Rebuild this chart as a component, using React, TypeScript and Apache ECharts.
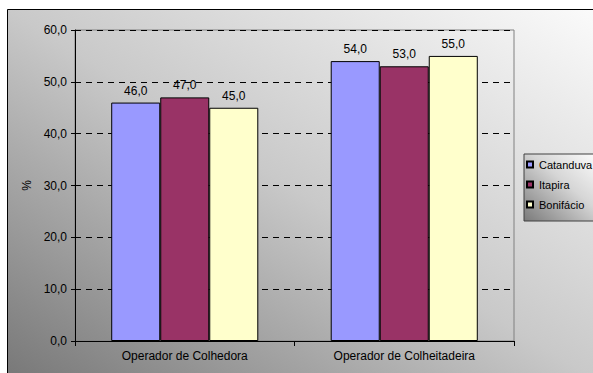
import React, { useEffect, useRef } from "react";
import * as echarts from "echarts";

const categories = ["Operador de Colhedora", "Operador de Colheitadeira"];
const seriesNames = ["Catanduva", "Itapira", "Bonifácio"];
const catanduva = [46.0, 54.0];
const itapira = [47.0, 53.0];
const bonifacio = [45.0, 55.0];
const yTicks = { min: 0, max: 60, interval: 10 };

const FONT = "Liberation Sans, Arial, sans-serif";
const fmt = (v: number) => v.toFixed(1).replace(".", ",");

export default function App() {
  const ref = useRef<HTMLDivElement>(null);

  useEffect(() => {
    document.body.style.margin = "0";
    if (!ref.current) return;
    const chart = echarts.init(ref.current, undefined, { renderer: "svg" });

    const values = [catanduva, itapira, bonifacio];
    const colors = ["#9999FF", "#993366", "#FFFFCC"];

    chart.setOption({
      animation: false,
      textStyle: { fontFamily: FONT },
      graphic: [
        {
          type: "rect",
          z: -10,
          silent: true,
          shape: { x: 7.5, y: 9.5, width: 592, height: 372 },
          style: {
            fill: new echarts.graphic.LinearGradient(0, 1, 1, 0, [
              { offset: 0, color: "#777777" },
              { offset: 0.5, color: "#c9c9c9" },
              { offset: 1, color: "#fbfbfb" },
            ]),
            stroke: "#000000",
            lineWidth: 1,
          },
        },
      ],
      grid: {
        left: 75,
        right: 79,
        top: 30,
        bottom: 32,
        show: true,
        borderColor: "#808080",
        borderWidth: 1,
        backgroundColor: "transparent",
      },
      legend: {
        orient: "vertical",
        left: 524,
        top: 154,
        itemWidth: 6,
        itemHeight: 6,
        itemGap: 7,
        padding: [4, 10, 10, 2],
        icon: "rect",
        borderColor: "#404040",
        borderWidth: 1,
        backgroundColor: new echarts.graphic.LinearGradient(0, 1, 1, 0, [
          { offset: 0, color: "#7a7a7a" },
          { offset: 0.55, color: "#d6d6d6" },
          { offset: 1, color: "#ffffff" },
        ]),
        textStyle: { color: "#000", fontSize: 11, lineHeight: 13, fontFamily: FONT, padding: [0, 0, 0, 1] },
        data: seriesNames,
      },
      xAxis: {
        type: "category",
        data: categories,
        axisLine: { lineStyle: { color: "#000", width: 1 } },
        axisTick: { show: true, length: 5, lineStyle: { color: "#000" } },
        axisLabel: { color: "#000", fontSize: 12, margin: 9, fontFamily: FONT },
      },
      yAxis: {
        type: "value",
        min: yTicks.min,
        max: yTicks.max,
        interval: yTicks.interval,
        name: "%",
        nameLocation: "middle",
        nameGap: 41,
        nameTextStyle: { color: "#000", fontSize: 12, fontFamily: FONT },
        axisLine: { show: true, lineStyle: { color: "#000", width: 1 } },
        axisTick: { show: true, length: 4, lineStyle: { color: "#000" } },
        axisLabel: { color: "#000", fontSize: 12, margin: 8, formatter: fmt, fontFamily: FONT },
        splitLine: { show: true, lineStyle: { color: "#000", type: [6, 5], width: 1 } },
      },
      series: seriesNames.map((name, i) => ({
        name,
        type: "bar",
        data: values[i],
        barGap: "0%",
        barCategoryGap: "33%",
        itemStyle: { color: colors[i], borderColor: "#000", borderWidth: 1 },
        label: {
          show: true,
          position: "top",
          distance: 6,
          color: "#000",
          fontSize: 12,
          fontFamily: FONT,
          formatter: (p: any) => fmt(p.value),
        },
      })),
    });

    return () => chart.dispose();
  }, []);

  return <div ref={ref} style={{ width: 593, height: 373 }} />;
}
